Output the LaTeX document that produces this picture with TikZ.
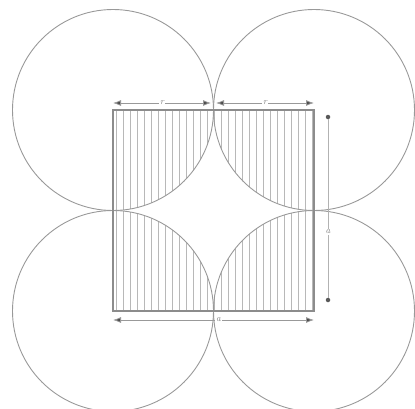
\documentclass[tikz,border=0pt]{standalone}
\usetikzlibrary{arrows.meta}
\begin{document}
\begin{tikzpicture}[x=1pt,y=-1pt,
  circ/.style={draw=black!40,line width=0.9pt},
  sq/.style={draw=black!45,line width=1.1pt},
  hatch/.style={draw=black!28,line width=0.6pt},
  dim/.style={draw=black!40,line width=0.8pt,{Latex[length=8pt,width=6pt,fill=black!70]}-{Latex[length=8pt,width=6pt,fill=black!70]}},
  lab/.style={font=\small\itshape,text=black!50,inner sep=1pt,fill=white}]
\useasboundingbox (0,0) rectangle (415,408);
\coordinate (A) at (113,110);
\coordinate (B) at (314,110);
\coordinate (C) at (113,311);
\coordinate (D) at (314,311);
% hatching of quarter discs
\foreach \p in {A,B,C,D}{
  \begin{scope}
    \clip (A) rectangle (D);
    \clip (\p) circle (100.5);
    \foreach \x in {116,123,...,314} \draw[hatch] (\x,105) -- (\x,316);
  \end{scope}
}
% circles
\foreach \p in {A,B,C,D} \draw[circ] (\p) circle (100.5);
% square
\draw[sq] (A) rectangle (D);
% top dimensions
\coordinate (a1) at (113,103);
\coordinate (a2) at (211,103);
\coordinate (a3) at (216,103);
\coordinate (a4) at (314,103);
\draw[dim] (a1) -- node[lab] {r} (a2);
\draw[dim] (a3) -- node[lab] {r} (a4);
% bottom dimension
\coordinate (b1) at (113,320);
\coordinate (b2) at (314,320);
\draw[dim] (b1) -- node[lab,xshift=5pt] {a} (b2);
% right dimension
\node[circle,fill=black!65,inner sep=0pt,minimum size=4.5pt] (d1) at (328,117) {};
\node[circle,fill=black!65,inner sep=0pt,minimum size=4.5pt] (d2) at (328,300) {};
\draw[draw=black!30,line width=0.5pt] (d1) -- node[lab,pos=0.63] {a} (d2);
\end{tikzpicture}
\end{document}
